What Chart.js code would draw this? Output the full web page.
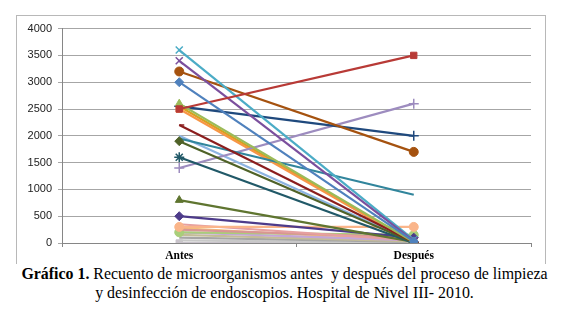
<!DOCTYPE html>
<html>
<head>
<meta charset="utf-8">
<script src="https://cdn.jsdelivr.net/npm/chart.js@4.4.1/dist/chart.umd.min.js"></script>
<style>
    body { margin: 0; background: #fff; width: 569px; height: 315px; position: relative; overflow: hidden; }
    .frame { position: absolute; left: 16px; top: 15px; width: 528px; height: 248px; border: 1px solid #b8b8b8; border-bottom: none; }
    .frame canvas { position: absolute; left: 0; top: 0; }
    .caption { position: absolute; left: 0; top: 264px; width: 569px; text-align: center;
               font-family: "Liberation Serif", "Times New Roman", serif; font-size: 15.9px; line-height: 19px; color: #000; }
</style>
</head>
<body>
<div class="frame"><canvas id="chart" width="528" height="247"></canvas></div>
<div class="caption"><b>Gráfico 1.</b> Recuento de microorganismos antes&nbsp; y después del proceso de limpieza<br>y desinfección de endoscopios. Hospital de Nivel III- 2010.</div>
<script>
// ===== DATA =====
const categories = ['Antes', 'Después'];
const yTicks = [0, 500, 1000, 1500, 2000, 2500, 3000, 3500, 4000];

// one value per sample, same order in both arrays
const antes   = [3000, 2500, 2600, 3400, 3600, 3200, 2550, 2200, 1900, 1950, 1600, 1400, 2500, 2550, 2000, 800, 500, 300, 350, 250, 200, 200, 150, 100, 50, 0, 280];
const despues = [  30, 3500,   20,   40,   60, 1700, 2000,   20,   10,  900,    0, 2600,    0,    0,   10,  20, 100, 300,  50, 100, 150,  50,  30,  20,  0, 0,  40];

// ===== STYLES =====
const colors = ['#4F81BD', '#B83A36', '#9BBB59', '#7B4F9D', '#4BACC6', '#A5520F', '#1F497D', '#8B1E1E', '#4F6228', '#31859C',
                '#215968', '#9D8CBF', '#F79646', '#D6A21E', '#8DB4E2', '#5F7530', '#4D3B8A', '#FAB58A', '#E6A0A0', '#D99694',
                '#A9CE7A', '#C4A6D8', '#C4BD97', '#A6A6A6', '#C8C8C8', '#C9C3CB', '#F4C07A'];
const markers = ['rectRot', 'rect', 'triangle', 'crossRot', 'crossRot', 'circle', 'cross', 'dash', 'rectRot', false,
                 'star', 'cross', 'rect', false, false, 'triangle', 'rectRot', 'circle', false, false,
                 'circle', false, false, false, false, 'rect', false];

(function() {
    'use strict';

    const datasets = antes.map(function(v, i) {
        const style = markers[i];
        const thin = style === 'cross' || style === 'crossRot' || style === 'star' || style === 'dash';
        return {
            label: 'Muestra ' + (i + 1),
            data: [v, despues[i]],
            borderColor: colors[i],
            backgroundColor: colors[i],
            borderWidth: 2.2,
            tension: 0,
            pointStyle: style || 'circle',
            pointRadius: style ? (thin ? 5 : 4.5) : 0,
            pointBorderWidth: thin ? 1.5 : 1,
            pointBorderColor: colors[i],
            pointBackgroundColor: colors[i]
        };
    });

    new Chart(document.getElementById('chart'), {
        type: 'line',
        data: { labels: categories, datasets: datasets },
        options: {
            responsive: false,
            animation: false,
            layout: { padding: { top: 10, right: 14, left: 0, bottom: 0 } },
            plugins: { legend: { display: false }, tooltip: { enabled: false } },
            scales: {
                x: {
                    offset: true,
                    grid: { offset: true, drawOnChartArea: false, drawTicks: true, tickLength: 4, color: '#868686' },
                    border: { color: '#868686' },
                    ticks: { color: '#000', padding: 2, font: { family: 'Liberation Serif', weight: 'bold', size: 11.5 } },
                    afterFit: function(scale) { scale.height = 20; }
                },
                y: {
                    min: 0,
                    max: 4000,
                    afterBuildTicks: function(scale) { scale.ticks = yTicks.map(function(t) { return { value: t }; }); },
                    grid: { color: '#a6a6a6', tickLength: 4 },
                    border: { color: '#868686' },
                    ticks: {
                        color: '#222',
                        padding: 6,
                        font: { family: 'Liberation Sans', size: 11 },
                        callback: function(value) { return String(value); }
                    },
                    afterFit: function(scale) { scale.width = 45; }
                }
            }
        }
    });
})();
</script>
</body>
</html>
